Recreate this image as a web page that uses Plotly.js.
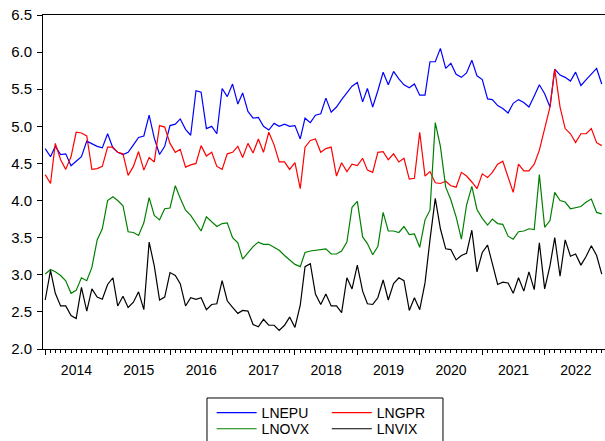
<!DOCTYPE html>
<html>
<head>
<meta charset="utf-8">
<script src="https://cdn.plot.ly/plotly-3.0.1.min.js"></script>
<style>html,body{margin:0;padding:0;background:#fff;}#chart{width:605px;height:441px;}</style>
</head>
<body>
<div id="chart"></div>
<script>
// Monthly observations, Jan 2014 .. Dec 2022
var startYear = 2014, endYear = 2022;
var months = [];
for (var y = startYear; y <= endYear; y++) {
  for (var m = 1; m <= 12; m++) months.push(y + '-' + (m < 10 ? '0' + m : m) + '-01');
}

var LNEPU = [4.70,4.59,4.73,4.62,4.63,4.47,4.53,4.59,4.80,4.76,4.73,4.71,
4.90,4.71,4.65,4.62,4.65,4.75,4.85,4.87,5.15,4.84,4.62,4.73,
5.01,5.03,5.10,4.96,4.88,5.48,5.46,4.97,5.00,4.90,5.51,5.40,
5.57,5.30,5.45,5.20,5.11,5.12,5.00,4.95,5.04,5.00,5.03,5.00,
5.01,4.83,5.11,5.05,5.15,5.17,5.38,5.19,5.26,5.36,5.45,5.54,
5.59,5.33,5.51,5.26,5.48,5.73,5.56,5.74,5.64,5.56,5.52,5.57,
5.42,5.42,5.87,5.87,6.05,5.78,5.85,5.70,5.66,5.72,5.89,5.68,
5.63,5.37,5.36,5.28,5.24,5.18,5.31,5.36,5.32,5.26,5.41,5.56,
5.44,5.26,5.77,5.69,5.66,5.61,5.73,5.55,5.63,5.71,5.78,5.57];

var LNGPR = [4.35,4.23,4.77,4.55,4.42,4.59,4.92,4.91,4.87,4.42,4.43,4.46,
4.72,4.72,4.65,4.63,4.34,4.46,4.66,4.41,4.58,4.52,5.01,4.99,
4.77,4.65,4.69,4.45,4.48,4.50,4.74,4.60,4.65,4.46,4.42,4.63,
4.65,4.73,4.58,4.77,4.64,4.83,4.65,4.92,4.75,4.52,4.52,4.42,
4.51,4.16,4.72,4.81,4.83,4.65,4.70,4.72,4.33,4.51,4.39,4.49,
4.47,4.57,4.41,4.38,4.65,4.66,4.55,4.63,4.52,4.57,4.29,4.30,
4.92,4.33,4.39,4.24,4.23,4.26,4.20,4.18,4.38,4.33,4.25,4.16,
4.36,4.31,4.38,4.49,4.53,4.33,4.11,4.49,4.40,4.40,4.49,4.68,
4.96,5.26,5.77,5.26,4.97,4.90,4.78,4.90,4.90,4.97,4.78,4.74];

var LNOVX = [3.01,3.07,3.04,2.99,2.92,2.75,2.79,2.96,2.92,3.10,3.47,3.62,
4.00,4.05,4.00,3.93,3.58,3.57,3.53,3.70,4.04,3.80,3.74,3.89,
3.90,4.20,4.03,3.87,3.80,3.69,3.59,3.78,3.71,3.65,3.69,3.70,
3.50,3.43,3.21,3.30,3.38,3.44,3.41,3.41,3.37,3.33,3.26,3.20,
3.14,3.11,3.30,3.32,3.33,3.35,3.35,3.28,3.28,3.32,3.44,3.91,
3.99,3.51,3.42,3.27,3.38,3.84,3.59,3.59,3.57,3.65,3.54,3.55,
3.37,3.74,3.87,5.05,4.73,4.18,4.01,3.78,3.48,3.94,4.19,3.88,
3.76,3.67,3.75,3.69,3.68,3.52,3.48,3.58,3.59,3.62,3.61,4.35,
3.64,3.73,4.11,4.00,3.98,3.89,3.90,3.92,3.98,4.02,3.84,3.82];

var LNVIX = [2.66,3.06,2.75,2.58,2.58,2.45,2.41,2.83,2.51,2.81,2.70,2.67,
2.87,2.96,2.58,2.71,2.56,2.63,2.77,2.53,3.44,3.12,2.66,2.70,
3.03,2.99,2.88,2.58,2.69,2.67,2.69,2.53,2.60,2.61,2.92,2.65,
2.56,2.48,2.52,2.51,2.33,2.30,2.40,2.32,2.32,2.25,2.32,2.43,
2.29,2.59,3.11,3.15,2.74,2.60,2.74,2.58,2.58,2.49,2.96,2.81,
3.13,2.78,2.61,2.60,2.69,2.93,2.66,2.88,2.96,2.92,2.52,2.69,
2.53,2.89,3.47,4.03,3.62,3.35,3.34,3.20,3.26,3.29,3.60,3.04,
3.30,3.40,3.15,2.87,2.90,2.89,2.75,2.96,2.78,3.04,2.80,3.43,
2.81,3.12,3.50,2.98,3.47,3.25,3.28,3.13,3.25,3.39,3.26,3.01];

var seriesNames = ['LNEPU', 'LNGPR', 'LNOVX', 'LNVIX'];
var seriesData = [LNEPU, LNGPR, LNOVX, LNVIX];
var seriesColors = ['#0000FF', '#FF0000', '#008000', '#000000'];
var seriesLegend = ['legend', 'legend2', 'legend3', 'legend4'];

var FONT = 'Liberation Sans, Arial, sans-serif';

var traces = seriesNames.map(function (n, k) {
  return {
    type: 'scatter', mode: 'lines', name: n,
    x: months, y: seriesData[k],
    line: {color: seriesColors[k], width: 1.2},
    legend: seriesLegend[k],
    hoverinfo: 'skip'
  };
});

function legendAt(px, py) {
  return {
    orientation: 'v', yanchor: 'top', xanchor: 'left',
    x: px, y: py,
    bgcolor: 'rgba(0,0,0,0)', borderwidth: 0,
    font: {family: FONT, size: 14, color: '#000'},
    tracegroupgap: 0, itemwidth: 40
  };
}

var layout = {
  width: 605, height: 441,
  margin: {l: 43, r: 0, t: 15, b: 92, autoexpand: false},
  paper_bgcolor: '#fff', plot_bgcolor: '#fff',
  showlegend: true,
  font: {family: FONT, size: 14, color: '#000'},
  xaxis: {
    type: 'date',
    range: ['2013-12-19', '2022-12-20'],
    showline: true, linecolor: '#000', linewidth: 1, mirror: true,
    ticks: 'outside', ticklen: 5, tickwidth: 1, tickcolor: '#000',
    tick0: '2014-01-01', dtick: 'M12', tickformat: '%Y', ticklabelmode: 'period',
    ticklabelstandoff: 3,
    showgrid: false, zeroline: false,
    minor: {dtick: 'M1', ticks: 'outside', ticklen: 3, tickwidth: 1, tickcolor: '#000', showgrid: false},
    tickfont: {family: FONT, size: 14, color: '#000'}
  },
  yaxis: {
    range: [2, 6.5], tick0: 2, dtick: 0.5, tickformat: '.1f',
    showline: true, linecolor: '#000', linewidth: 1,
    ticks: 'outside', ticklen: 5, tickwidth: 1, tickcolor: '#000',
    ticklabelstandoff: 2,
    showgrid: false, zeroline: false,
    tickfont: {family: FONT, size: 15, color: '#000'}
  },
  legend: legendAt(0.300, -0.1437),
  legend2: legendAt(0.505, -0.1437),
  legend3: legendAt(0.300, -0.1920),
  legend4: legendAt(0.505, -0.1920),
  shapes: [{
    type: 'rect', xref: 'paper', yref: 'paper',
    x0: 0.2918, x1: 0.7117, y0: -0.1467, y1: -0.30,
    line: {color: '#000', width: 1}, fillcolor: 'rgba(0,0,0,0)'
  }]
};

Plotly.newPlot('chart', traces, layout, {staticPlot: true, displayModeBar: false});
</script>
</body>
</html>
